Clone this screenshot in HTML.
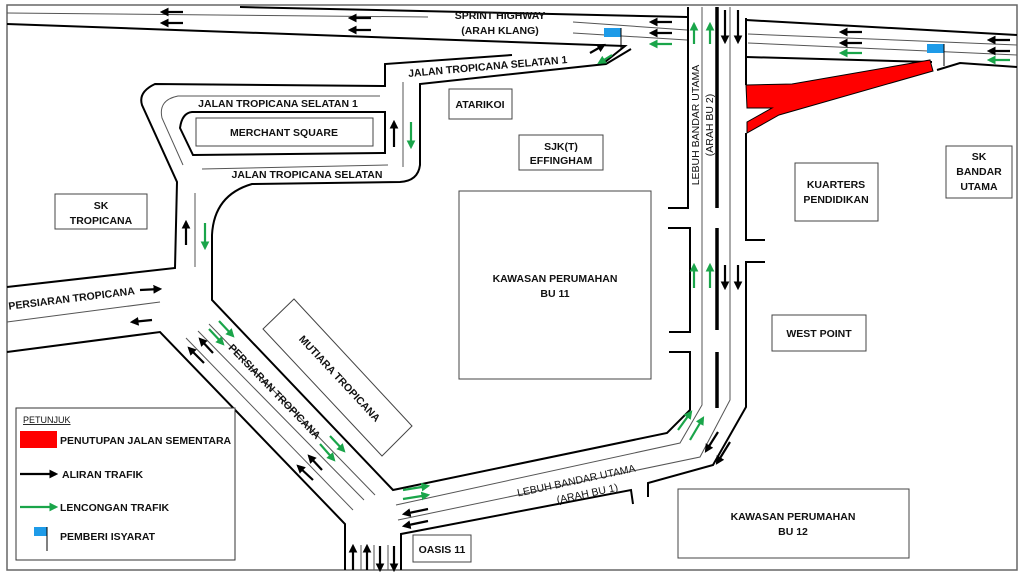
<!DOCTYPE html>
<html><head><meta charset="utf-8"><style>
html,body{margin:0;padding:0;background:#fff;}
svg{display:block;}
text{font-family:"Liberation Sans",sans-serif;font-weight:bold;font-size:10.5px;fill:#111;}
</style></head><body>
<svg width="1024" height="576" viewBox="0 0 1024 576" xmlns="http://www.w3.org/2000/svg">
<defs>
<marker id="ab" markerWidth="4" markerHeight="4" refX="3" refY="2" orient="auto" markerUnits="strokeWidth"><path d="M0,0 L4,2 L0,4 z" fill="#000"/></marker>
<marker id="ag" markerWidth="4" markerHeight="4" refX="3" refY="2" orient="auto" markerUnits="strokeWidth"><path d="M0,0 L4,2 L0,4 z" fill="#1aa54a"/></marker>
</defs>
<rect x="7" y="5" width="1010" height="565" fill="#fff" stroke="#666" stroke-width="1.5"/>

<g fill="none" stroke="#000" stroke-width="2">
<path d="M240,7 L687,17"/>
<path d="M7,24 L625,46 L605,62"/>
<path d="M631,49 L606,64 L420,84 L420,165 Q418,181 400,182 L252,184 Q214,195 212,235 L212,300 L393,490 L667,433 L690,410 L690,352 L669,352"/>
<path d="M669,332 L690,332 L690,228 L668,228"/>
<path d="M668,208 L688,208 L688,7"/>
<path d="M512,55 L385,64 L385,86 L155,84 Q138,92 142,105 L177,182 L175,268 L7,287"/>
<path d="M7,352 L160,332 L345,524 L345,570"/>
<path d="M401,570 L401,534 L631,490 L633,504"/>
<path d="M648,497 L648,483 L713,465 L746,407 L746,262 L765,262"/>
<path d="M765,240 L746,240 L746,133"/>
<path d="M746,85 L746,18"/>
<path d="M746,20 L1017,35"/>
<path d="M746,57 L932,62"/>
<path d="M937,70 L960,63 L1017,67"/>
<path d="M192,112 L385,112 L385,153 L193,155 L180,128 Q182,113 192,112 Z"/>
</g>
<g fill="none" stroke="#555" stroke-width="1">
<path d="M7,13 L428,17"/>
<path d="M573,22 L687,30"/>
<path d="M573,33 L687,40"/>
<path d="M748,34 L1017,45"/>
<path d="M748,43 L1017,55"/>
<path d="M380,96 L178,96 Q158,100 162,118 L183,165"/>
<path d="M202,169 L388,165"/>
<path d="M403,82 L403,167"/>
<path d="M195,193 L195,267"/>
<path d="M7,322 L160,302"/>
<path d="M186,338 L353,510"/>
<path d="M198,331 L364,500"/>
<path d="M209,324 L375,495"/>
<path d="M361,545 L361,570 M374,545 L374,570 M388,545 L388,570"/>
<path d="M396,505 L680,443 L702,405 L702,7"/>
<path d="M398,520 L700,457 L730,400 L730,7"/>
</g>
<g stroke="#000" stroke-width="3.5" fill="none">
<path d="M717,7 L717,208 M717,228 L717,330 M717,352 L717,408"/>
</g>
<path d="M746,85 L792,84 L930,60 L933,71 L779,115 L747,133 L747,122 L772,108 L747,108 Z" fill="#ff0000" stroke="#000" stroke-width="1"/>

<rect x="604" y="28" width="17" height="9" fill="#1e9be8"/><line x1="621" y1="28" x2="621" y2="50" stroke="#000"/>
<rect x="927" y="44" width="17" height="9" fill="#1e9be8"/><line x1="944" y1="44" x2="944" y2="66" stroke="#000"/>

<g fill="#fff" stroke="#444" stroke-width="1">
<rect x="196" y="118" width="177" height="28"/>
<rect x="449" y="89" width="63" height="30"/>
<rect x="519" y="135" width="84" height="35"/>
<rect x="459" y="191" width="192" height="188"/>
<rect x="55" y="194" width="92" height="35"/>
<rect x="795" y="163" width="83" height="58"/>
<rect x="946" y="146" width="66" height="52"/>
<rect x="772" y="315" width="94" height="36"/>
<rect x="678" y="489" width="231" height="69"/>
<rect x="413" y="535" width="58" height="27"/>
<polygon points="263,329 294,299 412,426 382,456"/>
<rect x="16" y="408" width="219" height="152" stroke="#333"/>
</g>

<g stroke="#000" stroke-width="2.2" marker-end="url(#ab)" fill="none">
<line x1="183" y1="12" x2="162" y2="12"/><line x1="183" y1="23" x2="162" y2="23"/>
<line x1="371" y1="18" x2="350" y2="18"/><line x1="371" y1="30" x2="350" y2="30"/>
<line x1="672" y1="22" x2="651" y2="22"/><line x1="672" y1="33" x2="651" y2="33"/>
<line x1="862" y1="32" x2="841" y2="32"/><line x1="862" y1="43" x2="841" y2="43"/>
<line x1="1010" y1="40" x2="989" y2="40"/><line x1="1010" y1="51" x2="989" y2="51"/>
<line x1="725" y1="10" x2="725" y2="42"/><line x1="738" y1="10" x2="738" y2="42"/>
<line x1="725" y1="265" x2="725" y2="288"/><line x1="738" y1="265" x2="738" y2="288"/>
<line x1="590" y1="53" x2="604" y2="45"/>
<line x1="394" y1="147" x2="394" y2="122"/>
<line x1="186" y1="245" x2="186" y2="222"/>
<line x1="140" y1="290" x2="160" y2="289"/>
<line x1="152" y1="320" x2="132" y2="322"/>
<line x1="213" y1="353" x2="200" y2="339"/><line x1="204" y1="363" x2="189" y2="348"/>
<line x1="322" y1="470" x2="309" y2="456"/><line x1="313" y1="480" x2="298" y2="466"/>
<line x1="428" y1="509" x2="404" y2="514"/><line x1="428" y1="521" x2="404" y2="526"/>
<line x1="353" y1="570" x2="353" y2="546"/><line x1="367" y1="570" x2="367" y2="546"/>
<line x1="380" y1="546" x2="380" y2="570"/><line x1="394" y1="546" x2="394" y2="570"/>
<line x1="718" y1="432" x2="706" y2="451"/><line x1="730" y1="442" x2="717" y2="463"/>
<line x1="20" y1="474" x2="56" y2="474"/>
</g>
<g stroke="#1aa54a" stroke-width="2.2" marker-end="url(#ag)" fill="none">
<line x1="672" y1="44" x2="651" y2="44"/>
<line x1="862" y1="53" x2="841" y2="53"/>
<line x1="1010" y1="60" x2="989" y2="60"/>
<line x1="694" y1="44" x2="694" y2="24"/><line x1="710" y1="44" x2="710" y2="24"/>
<line x1="694" y1="288" x2="694" y2="265"/><line x1="710" y1="288" x2="710" y2="265"/>
<line x1="612" y1="55" x2="599" y2="63"/>
<line x1="411" y1="122" x2="411" y2="147"/>
<line x1="205" y1="223" x2="205" y2="248"/>
<line x1="219" y1="321" x2="233" y2="336"/><line x1="209" y1="329" x2="223" y2="344"/>
<line x1="330" y1="436" x2="344" y2="451"/><line x1="320" y1="444" x2="334" y2="460"/>
<line x1="403" y1="490" x2="428" y2="486"/><line x1="403" y1="499" x2="428" y2="495"/>
<line x1="678" y1="430" x2="691" y2="412"/><line x1="690" y1="440" x2="703" y2="418"/>
<line x1="20" y1="507" x2="56" y2="507"/>
</g>

<g text-anchor="middle">
<text x="500" y="19">SPRINT HIGHWAY</text>
<text x="500" y="34">(ARAH KLANG)</text>
<text x="488" y="70" transform="rotate(-5 488 70)">JALAN TROPICANA SELATAN 1</text>
<text x="278" y="107">JALAN TROPICANA SELATAN 1</text>
<text x="284" y="136">MERCHANT SQUARE</text>
<text x="307" y="178">JALAN TROPICANA SELATAN</text>
<text x="480" y="108">ATARIKOI</text>
<text x="561" y="150">SJK(T)</text>
<text x="561" y="164">EFFINGHAM</text>
<text x="555" y="282">KAWASAN PERUMAHAN</text>
<text x="555" y="297">BU 11</text>
<text x="101" y="209">SK</text>
<text x="101" y="224">TROPICANA</text>
<text x="72" y="302" transform="rotate(-7 72 302)">PERSIARAN TROPICANA</text>
<text x="337" y="381" transform="rotate(47 337 381)">MUTIARA TROPICANA</text>
<text x="272" y="394" transform="rotate(46 272 394)">PERSIARAN TROPICANA</text>
<text x="577" y="484" transform="rotate(-12 577 484)" style="font-weight:normal">LEBUH BANDAR UTAMA</text>
<text x="588" y="497" transform="rotate(-12 588 497)" style="font-weight:normal">(ARAH BU 1)</text>
<text x="699" y="125" transform="rotate(-90 699 125)" style="font-weight:normal">LEBUH BANDAR UTAMA</text>
<text x="713" y="125" transform="rotate(-90 713 125)" style="font-weight:normal">(ARAH BU 2)</text>
<text x="836" y="188">KUARTERS</text>
<text x="836" y="203">PENDIDIKAN</text>
<text x="979" y="160">SK</text>
<text x="979" y="175">BANDAR</text>
<text x="979" y="190">UTAMA</text>
<text x="819" y="337">WEST POINT</text>
<text x="793" y="520">KAWASAN PERUMAHAN</text>
<text x="793" y="535">BU 12</text>
<text x="442" y="553">OASIS 11</text>
</g>
<text x="23" y="423" style="font-weight:normal;font-size:9px" text-decoration="underline">PETUNJUK</text>
<rect x="20" y="431" width="37" height="17" fill="#ff0000"/>
<text x="60" y="444">PENUTUPAN JALAN SEMENTARA</text>
<text x="62" y="478">ALIRAN TRAFIK</text>
<text x="60" y="511">LENCONGAN TRAFIK</text>
<rect x="34" y="527" width="13" height="9" fill="#1e9be8"/><line x1="47" y1="527" x2="47" y2="551" stroke="#000"/>
<text x="60" y="540">PEMBERI ISYARAT</text>
</svg>
</body></html>
